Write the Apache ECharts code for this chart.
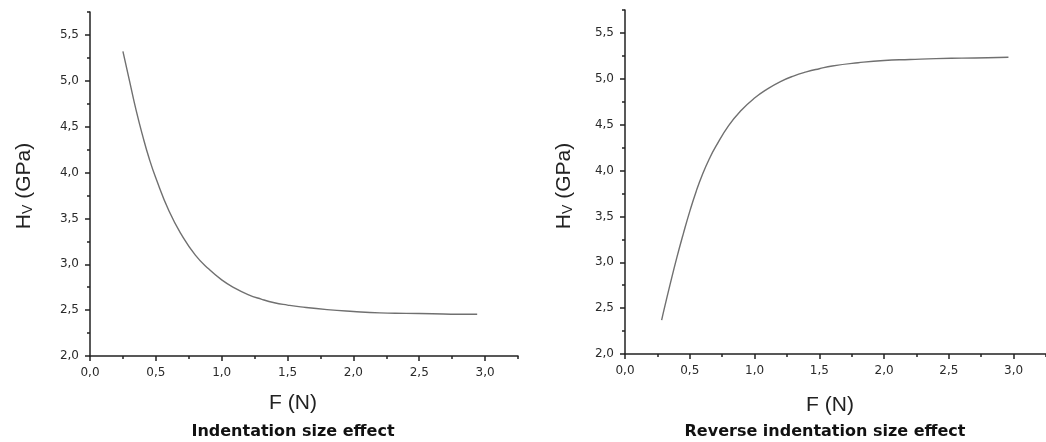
<!DOCTYPE html>
<html>
<head>
<meta charset="utf-8">
<script src="https://cdn.jsdelivr.net/npm/echarts@6/dist/echarts.min.js"></script>
<style>html,body{margin:0;padding:0;background:#fff;}#c{width:1046px;height:442px;}</style>
</head>
<body>
<div id="c"></div>
<script>
// Data
const leftF  = [0.25,0.30,0.35,0.40,0.45,0.50,0.60,0.70,0.80,0.90,1.00,1.10,1.20,1.30,1.40,1.50,1.60,1.80,2.00,2.20,2.40,2.60,2.80,2.94];
const leftHv = [5.32,5.00,4.68,4.40,4.15,3.94,3.58,3.31,3.10,2.95,2.83,2.74,2.67,2.62,2.58,2.555,2.535,2.505,2.485,2.47,2.465,2.46,2.455,2.455];
const rightF  = [0.283,0.30,0.35,0.40,0.45,0.50,0.55,0.60,0.65,0.70,0.80,0.90,1.00,1.10,1.20,1.30,1.40,1.50,1.60,1.80,2.00,2.20,2.40,2.60,2.80,2.96];
const rightHv = [2.37,2.475,2.77,3.05,3.31,3.555,3.775,3.965,4.125,4.26,4.49,4.66,4.79,4.89,4.97,5.03,5.075,5.11,5.14,5.175,5.20,5.21,5.22,5.225,5.23,5.235];
const xMajorTicks = [0,0.5,1.0,1.5,2.0,2.5,3.0];
const xMinorTicks = [0.25,0.75,1.25,1.75,2.25,2.75,3.25];
const yMajorTicks = [2.0,2.5,3.0,3.5,4.0,4.5,5.0,5.5];
const yMinorTicks = [2.25,2.75,3.25,3.75,4.25,4.75,5.25,5.75];
const xTitle = 'F (N)';
const leftTitle = 'Indentation size effect';
const rightTitle = 'Reverse indentation size effect';

const chart = echarts.init(document.getElementById('c'), null, {renderer:'canvas'});
const fmt = v => v.toFixed(1).replace('.', ',');
const axisColor = '#222';
const labelStyle = {color:'#2a2a2a', fontSize:12, fontFamily:'DejaVu Sans, sans-serif'};

function xAxes(gi){
  return [
    {type:'value', gridIndex:gi, min:0, max:3.25, position:'bottom',
     axisLine:{show:true, lineStyle:{color:axisColor, width:1.5}},
     axisTick:{show:true, inside:false, length:5, customValues:xMajorTicks, lineStyle:{color:axisColor, width:1.5}},
     axisLabel:{show:true, customValues:xMajorTicks, formatter:fmt, margin:11, ...labelStyle},
     splitLine:{show:false}},
    {type:'value', gridIndex:gi, min:0, max:3.25, position:'bottom',
     axisLine:{show:false},
     axisTick:{show:true, inside:false, length:3, customValues:xMinorTicks, lineStyle:{color:axisColor, width:1.5}},
     axisLabel:{show:false}, splitLine:{show:false}}
  ];
}
function yAxes(gi){
  return [
    {type:'value', gridIndex:gi, min:2, max:5.75, position:'left',
     axisLine:{show:true, lineStyle:{color:axisColor, width:1.5}},
     axisTick:{show:true, inside:false, length:5, customValues:yMajorTicks, lineStyle:{color:axisColor, width:1.5}},
     axisLabel:{show:true, customValues:yMajorTicks, formatter:fmt, margin:11, ...labelStyle},
     splitLine:{show:false}},
    {type:'value', gridIndex:gi, min:2, max:5.75, position:'left',
     axisLine:{show:false},
     axisTick:{show:true, inside:false, length:3, customValues:yMinorTicks, lineStyle:{color:axisColor, width:1.5}},
     axisLabel:{show:false}, splitLine:{show:false}}
  ];
}

const hvText = (x, y) => ({
  type:'text', x:x, y:y, rotation:Math.PI/2,
  style:{
    text:'{a|H}{b|V}{a| (GPa)}',
    align:'center', verticalAlign:'middle',
    rich:{
      a:{fontSize:21, fontFamily:'Liberation Sans, Arial, sans-serif', fill:'#222'},
      b:{fontSize:14, fontFamily:'Liberation Sans, Arial, sans-serif', fill:'#222', verticalAlign:'bottom', padding:[9,0,0,0]}
    }
  }
});
const plainText = (x, y, t, size, weight, family) => ({
  type:'text', x:x, y:y,
  style:{text:t, align:'center', verticalAlign:'middle', fontSize:size, fontWeight:weight,
         fontFamily:family, fill:weight==='bold' ? '#111' : '#222'}
});

chart.setOption({
  animation:false,
  backgroundColor:'#fff',
  grid:[
    {left:90, top:12, width:428, height:344},
    {left:625, top:10, width:428, height:344}
  ],
  xAxis:[...xAxes(0), ...xAxes(1)],
  yAxis:[...yAxes(0), ...yAxes(1)],
  series:[
    {type:'line', xAxisIndex:0, yAxisIndex:0, data:leftF.map((f,i)=>[f,leftHv[i]]),
     smooth:0.5, showSymbol:false, lineStyle:{color:'#707070', width:1.4}},
    {type:'line', xAxisIndex:2, yAxisIndex:2, data:rightF.map((f,i)=>[f,rightHv[i]]),
     smooth:0.5, showSymbol:false, lineStyle:{color:'#707070', width:1.4}}
  ],
  graphic:[
    hvText(24, 186),
    hvText(564, 186),
    plainText(293, 403, xTitle, 21, 'normal', 'Liberation Sans, Arial, sans-serif'),
    plainText(830, 405, xTitle, 21, 'normal', 'Liberation Sans, Arial, sans-serif'),
    plainText(293, 432, leftTitle, 16, 'bold', 'DejaVu Sans, sans-serif'),
    plainText(825, 432, rightTitle, 16, 'bold', 'DejaVu Sans, sans-serif')
  ]
});
</script>
</body>
</html>
